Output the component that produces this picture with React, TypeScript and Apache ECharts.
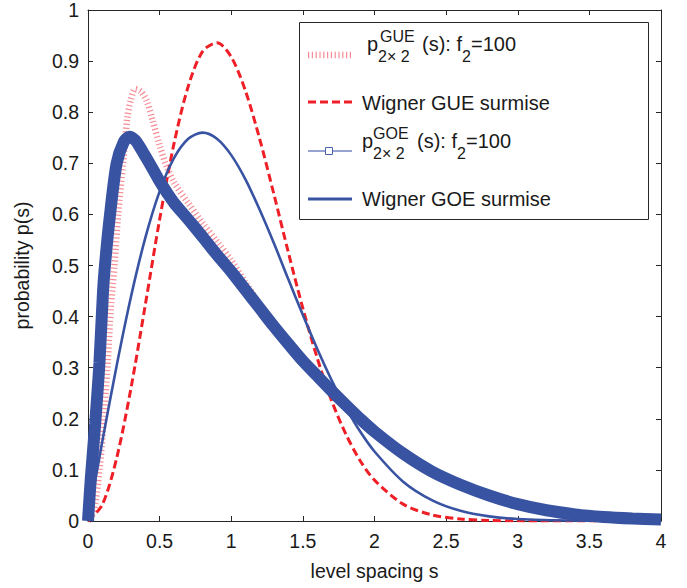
import { useEffect, useRef } from "react";
import * as echarts from "echarts";

// p_GUE 2x2 (s), f2 = 100  (red hatched)
const sGue2 = [0, 0.04, 0.08, 0.11, 0.135, 0.16, 0.185, 0.21, 0.245, 0.275, 0.3, 0.33, 0.37, 0.41, 0.45, 0.5, 0.55, 0.6, 0.7, 0.8, 0.9, 1.0, 1.1, 1.2, 1.4, 1.6, 1.8, 2.0, 2.2, 2.5, 3.0, 3.5, 4.0];
const pGue2 = [0, 0.02, 0.1, 0.2, 0.3, 0.42, 0.5, 0.6, 0.7, 0.79, 0.825, 0.845, 0.84, 0.822, 0.785, 0.735, 0.693, 0.663, 0.622, 0.583, 0.547, 0.51, 0.466, 0.424, 0.35, 0.287, 0.229, 0.177, 0.134, 0.083, 0.034, 0.01, 0.003];

// p_GOE 2x2 (s), f2 = 100  (thick blue band)
const sGoe2 = [0, 0.02, 0.05, 0.08, 0.105, 0.12, 0.15, 0.2, 0.25, 0.29, 0.33, 0.36, 0.4, 0.45, 0.5, 0.55, 0.6, 0.7, 0.8, 0.9, 1.0, 1.1, 1.2, 1.3, 1.4, 1.5, 1.6, 1.7, 1.8, 1.9, 2.0, 2.2, 2.4, 2.6, 2.8, 3.0, 3.2, 3.4, 3.6, 3.8, 4.0];
const pGoe2 = [0, 0.085, 0.19, 0.31, 0.45, 0.505, 0.59, 0.7, 0.742, 0.752, 0.745, 0.733, 0.714, 0.69, 0.665, 0.643, 0.623, 0.59, 0.556, 0.521, 0.488, 0.452, 0.416, 0.38, 0.346, 0.313, 0.284, 0.255, 0.227, 0.2, 0.175, 0.132, 0.097, 0.071, 0.05, 0.033, 0.021, 0.013, 0.008, 0.005, 0.003];

// Wigner surmises
const sWigner = [0, 0.1, 0.2, 0.3, 0.4, 0.5, 0.6, 0.7, 0.8, 0.9, 1.0, 1.1, 1.2, 1.3, 1.4, 1.5, 1.6, 1.7, 1.8, 1.9, 2.0, 2.2, 2.4, 2.6, 2.8, 3.0, 3.5, 4.0];
const pWignerGue = [0, 0.032, 0.123, 0.26, 0.423, 0.59, 0.738, 0.851, 0.919, 0.936, 0.908, 0.841, 0.746, 0.637, 0.524, 0.416, 0.319, 0.236, 0.17, 0.118, 0.08, 0.033, 0.012, 0.004, 0.001, 0.0003, 0, 0];
const pWignerGoe = [0, 0.156, 0.304, 0.439, 0.554, 0.645, 0.71, 0.748, 0.76, 0.748, 0.716, 0.668, 0.608, 0.542, 0.472, 0.403, 0.337, 0.276, 0.222, 0.175, 0.136, 0.077, 0.041, 0.02, 0.009, 0.004, 0.0004, 0];

const legendNames = ["p_GUE 2x2 (s): f2=100", "Wigner GUE surmise", "p_GOE 2x2 (s): f2=100", "Wigner GOE surmise"];

const FONT = "'Liberation Sans', Arial, Helvetica, sans-serif";
const BLUE = "#3953a3";
const RED = "#ee1f26";
const HATCH = "rgba(240, 70, 85, 0.62)";
const AXIS = "#262626";
const TEXT = "#1a1a1a";

const zip = (xs: number[], ys: number[]) => xs.map((x, i) => [x, ys[i]]);

function txt(text: string, x: number, y: number, size: number) {
  return {
    type: "text",
    x,
    y,
    z: 101,
    style: { text, fontSize: size, fontFamily: FONT, fill: TEXT, align: "left", verticalAlign: "middle" },
  };
}

export default function App() {
  const ref = useRef<HTMLDivElement>(null);
  useEffect(() => {
    if (!ref.current) return;
    const chart = echarts.init(ref.current, undefined, { renderer: "svg" });
    const axisCommon = {
      type: "value",
      axisLine: { show: true, onZero: false, lineStyle: { color: AXIS, width: 1 } },
      axisTick: { show: true, inside: true, length: 5, lineStyle: { color: AXIS, width: 1 } },
      splitLine: { show: false },
    };
    const tickStyle = { fontSize: 19.5, fontFamily: FONT, color: TEXT };
    const nameStyle = { fontSize: 19.5, fontFamily: FONT, color: TEXT };
    chart.setOption({
      animation: false,
      backgroundColor: "#ffffff",
      grid: { left: 88, right: 26, top: 7, bottom: 67 },
      xAxis: [
        {
          ...axisCommon,
          position: "bottom",
          min: 0,
          max: 4,
          interval: 0.5,
          axisLabel: { ...tickStyle, margin: 10 },
          name: "level spacing s",
          nameLocation: "middle",
          nameGap: 40,
          nameTextStyle: nameStyle,
        },
        {
          ...axisCommon,
          position: "top",
          min: 0,
          max: 4,
          interval: 0.5,
          axisLabel: { show: false },
        },
      ],
      yAxis: [
        {
          ...axisCommon,
          position: "left",
          min: 0,
          max: 1,
          interval: 0.1,
          axisLabel: { ...tickStyle, margin: 9 },
          name: "probability p(s)",
          nameLocation: "middle",
          nameGap: 56,
          nameTextStyle: nameStyle,
        },
        {
          ...axisCommon,
          position: "right",
          min: 0,
          max: 1,
          interval: 0.1,
          axisLabel: { show: false },
        },
      ],
      series: [
        {
          name: legendNames[0],
          type: "line",
          data: zip(sGue2, pGue2),
          smooth: 0.3,
          showSymbol: false,
          lineStyle: { color: HATCH, width: 6.5, type: [1.2, 2.6], cap: "butt" },
        },
        {
          name: legendNames[1],
          type: "line",
          data: zip(sWigner, pWignerGue),
          smooth: 0.3,
          showSymbol: false,
          lineStyle: { color: RED, width: 3, type: [8, 4], cap: "butt" },
        },
        {
          name: legendNames[2],
          type: "line",
          data: zip(sGoe2, pGoe2),
          smooth: 0.3,
          showSymbol: false,
          clip: false,
          lineStyle: { color: BLUE, width: 12 },
        },
        {
          name: legendNames[3],
          type: "line",
          data: zip(sWigner, pWignerGoe),
          smooth: 0.3,
          showSymbol: false,
          lineStyle: { color: BLUE, width: 2.6 },
        },
      ],
      graphic: [
        {
          type: "rect",
          z: 100,
          shape: { x: 299.5, y: 22.5, width: 349, height: 197 },
          style: { fill: "#ffffff", stroke: AXIS, lineWidth: 1 },
        },
        // entry 1
        {
          type: "line",
          z: 101,
          shape: { x1: 308, y1: 55, x2: 352, y2: 55 },
          style: { stroke: HATCH, lineWidth: 6.5, lineDash: [1.2, 2.6] },
        },
        txt("p", 367, 44, 20),
        txt("GUE", 380, 36, 16),
        txt("2× 2", 378, 56, 16),
        txt("(s): f", 422, 44, 20),
        txt("2", 462, 56, 16),
        txt("=100", 471, 44, 20),
        // entry 2
        {
          type: "line",
          z: 101,
          shape: { x1: 308, y1: 102, x2: 352, y2: 102 },
          style: { stroke: RED, lineWidth: 3, lineDash: [8, 4] },
        },
        txt("Wigner GUE surmise", 362, 103, 20),
        // entry 3
        {
          type: "line",
          z: 101,
          shape: { x1: 308, y1: 151, x2: 352, y2: 151 },
          style: { stroke: "#7385c4", lineWidth: 1.3 },
        },
        {
          type: "rect",
          z: 102,
          shape: { x: 325.5, y: 147.5, width: 7, height: 7 },
          style: { fill: "#ffffff", stroke: "#4a5fae", lineWidth: 1 },
        },
        txt("p", 362, 141, 20),
        txt("GOE", 373, 133, 16),
        txt("2× 2", 373, 153, 16),
        txt("(s): f", 417, 141, 20),
        txt("2", 457, 153, 16),
        txt("=100", 466, 141, 20),
        // entry 4
        {
          type: "line",
          z: 101,
          shape: { x1: 308, y1: 199, x2: 352, y2: 199 },
          style: { stroke: BLUE, lineWidth: 3 },
        },
        txt("Wigner GOE surmise", 362, 199, 20),
      ],
    });
    return () => chart.dispose();
  }, []);
  return (
    <div
      ref={ref}
      style={{ position: "fixed", left: 0, top: 0, width: 687, height: 588, background: "#fff" }}
    />
  );
}
